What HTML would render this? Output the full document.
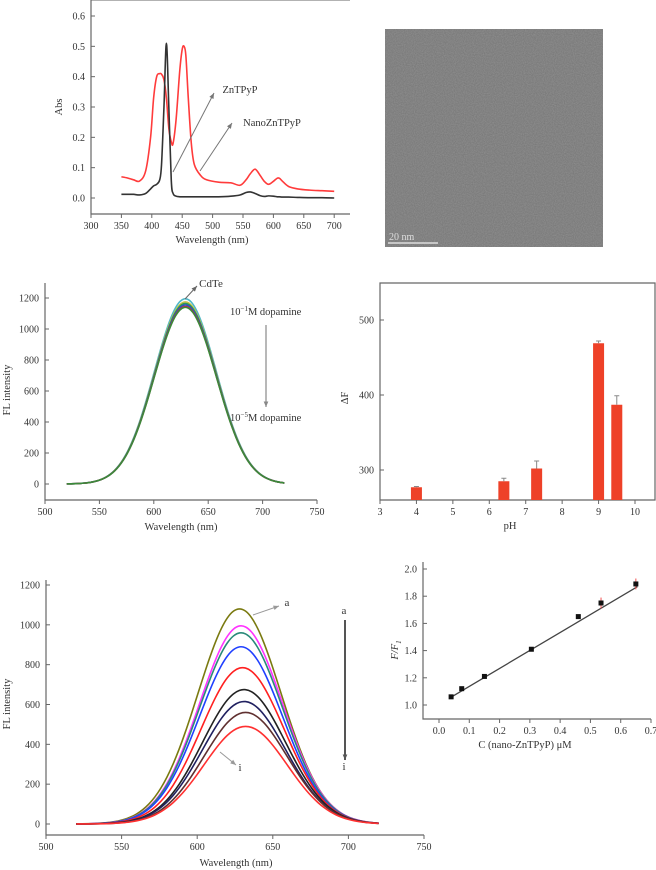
<!DOCTYPE html>
<html><head><meta charset="utf-8"><style>
html,body{margin:0;padding:0;background:#fff;width:656px;height:870px;overflow:hidden}
svg{display:block;font-family:"Liberation Serif",serif}
text{fill:#333}
</style></head><body>
<svg id="fig" width="656" height="870" viewBox="0 0 656 870">
<g id="pA"></g>
<g id="pT">
 <defs><filter id="noise" x="0" y="0" width="1" height="1"><feTurbulence type="fractalNoise" baseFrequency="0.9" numOctaves="2" seed="3"/><feColorMatrix type="matrix" values="0 0 0 0 0.42  0 0 0 0 0.42  0 0 0 0 0.42  0 0 0 -1.2 0.9"/></filter></defs>
 <rect x="385" y="29" width="218" height="218" fill="#7b7b7b"/>
 <rect x="385" y="29" width="218" height="218" filter="url(#noise)" opacity="0.5"/>
 <text x="389" y="240" font-size="10" style="fill:#ddd">20 nm</text>
 <line x1="388" y1="243" x2="438" y2="243" stroke="#ddd" stroke-width="1.5"/>
</g>
<g id="pB"></g>
<g id="pC"></g>
<g id="pD"></g>
<g id="pE"></g>
</svg>
<script>
// ---------- data ----------
const absWl = [350,360,370,380,390,398,403,408,413,416,420,424,428,432,435,440,446,450,453,456,460,465,470,480,490,510,530,545,555,562,570,578,585,592,600,606,610,615,625,640,660,680,700];
const absNano = [0.070,0.066,0.060,0.056,0.090,0.200,0.330,0.400,0.410,0.408,0.390,0.330,0.230,0.185,0.180,0.260,0.420,0.490,0.500,0.470,0.330,0.180,0.110,0.075,0.060,0.052,0.050,0.042,0.060,0.080,0.095,0.075,0.055,0.045,0.055,0.065,0.065,0.055,0.038,0.030,0.026,0.024,0.022];
const absZn = [0.012,0.012,0.012,0.010,0.015,0.030,0.040,0.045,0.060,0.110,0.300,0.510,0.300,0.060,0.015,0.006,0.004,0.004,0.004,0.004,0.004,0.004,0.004,0.004,0.004,0.004,0.006,0.010,0.018,0.020,0.015,0.008,0.005,0.007,0.006,0.004,0.004,0.003,0.003,0.002,0.001,0.001,0.000];
const absYTicks = [0.0,0.1,0.2,0.3,0.4,0.5,0.6];
const absXTicks = [300,350,400,450,500,550,600,650,700];

const dopPeaks = [1195,1175,1165,1155,1145,1140];
const dopColors = ['#4fb8c8','#c8c040','#2b9a55','#3050c0','#d02040','#3a8a3a'];
const dopYTicks = [0,200,400,600,800,1000,1200];
const dopXTicks = [500,550,600,650,700,750];

const phX = [4,6.4,7.3,9,9.5];
const phVals = [277,285,302,469,387];
const phErr = [1,4,10,3,12];
const phYTicks = [300,400,500];
const phXTicks = [3,4,5,6,7,8,9,10];

const qPeaks = [1080,995,960,890,785,675,615,560,490];
const qCenters = [628,629,629,629,630,631,631,632,632];
const qColors = ['#7a7a10','#ff33ff','#2a8a7a','#2040ff','#ff2020','#222222','#202060','#603030','#ff3030'];
const qYTicks = [0,200,400,600,800,1000,1200];
const qXTicks = [500,550,600,650,700,750];

const linX = [0.04,0.075,0.15,0.305,0.46,0.535,0.65];
const linY = [1.06,1.12,1.21,1.41,1.65,1.75,1.89];
const linErr = [0.01,0.01,0.01,0.01,0.01,0.04,0.04];
const linFit = [1.005,1.32];
const linYTicks = [1.0,1.2,1.4,1.6,1.8,2.0];
const linXTicks = [0.0,0.1,0.2,0.3,0.4,0.5,0.6,0.7];

// ---------- helpers ----------
const NS='http://www.w3.org/2000/svg';
function mk(parent,tag,attrs,txt){const e=document.createElementNS(NS,tag);for(const k in attrs)e.setAttribute(k,attrs[k]);if(txt!==undefined)e.textContent=txt;parent.appendChild(e);return e;}
function lin(d0,d1,r0,r1){return v=>r0+(v-d0)*(r1-r0)/(d1-d0);}
function axes(g,x0,x1,y0,y1,opts){
  const ax=mk(g,'path',{d:`M${x0} ${y0} L${x0} ${y1} L${x1} ${y1}`+(opts.box?` L${x1} ${y0} Z`:''),fill:'none',stroke:'#666','stroke-width':1.2});
  
  
  if(opts.top){const t=mk(g,'line',{x1:x0,y1:y0,x2:opts.top,y2:y0,stroke:'#666','stroke-width':1});}
}
function yTicks(g,ticks,sy,x0,fmt,fs){ticks.forEach(v=>{const y=sy(v);mk(g,'line',{x1:x0,y1:y,x2:x0+4,y2:y,stroke:'#666'});const t=mk(g,'text',{x:x0-6,y:y+3.5,'font-size':fs,'text-anchor':'end'},fmt(v));});}
function xTicks(g,ticks,sx,y1,fmt,fs,dy){ticks.forEach(v=>{const x=sx(v);mk(g,'line',{x1:x,y1:y1,x2:x,y2:y1+4,stroke:'#666'});const t=mk(g,'text',{x:x,y:y1+dy,'font-size':fs,'text-anchor':'middle'},fmt(v));});}
function label(g,x,y,txt,name,rot,fs){const t=mk(g,'text',{x:x,y:y,'font-size':fs||11,'text-anchor':'middle',transform:rot?`rotate(-90 ${x} ${y})`:''},txt);return t;}
function arrow(g,x1,y1,x2,y2,col,name,w){const l=mk(g,'line',{x1,y1,x2,y2,stroke:col,'stroke-width':w||1.2});
  const a=Math.atan2(y2-y1,x2-x1),s=6;mk(g,'path',{d:`M${x2} ${y2} L${x2-s*Math.cos(a-0.4)} ${y2-s*Math.sin(a-0.4)} L${x2-s*Math.cos(a+0.4)} ${y2-s*Math.sin(a+0.4)} Z`,fill:col});}
function smooth(pts){let d=`M${pts[0][0]} ${pts[0][1]}`;for(let i=0;i<pts.length-1;i++){const p0=pts[i-1]||pts[i],p1=pts[i],p2=pts[i+1],p3=pts[i+2]||p2;d+=` C${p1[0]+(p2[0]-p0[0])/6} ${p1[1]+(p2[1]-p0[1])/6} ${p2[0]-(p3[0]-p1[0])/6} ${p2[1]-(p3[1]-p1[1])/6} ${p2[0]} ${p2[1]}`;}return d;}
function gauss(peak,c,sigma,x){return peak*Math.exp(-((x-c)**2)/(2*sigma*sigma));}

// ---------- panel A ----------
(function(){const g=document.getElementById('pA');
 const sx=lin(300,350,91,121.4),sy=lin(0,0.6,198,16);
 axes(g,91,350,0,214,{top:350});
 yTicks(g,absYTicks,sy,91,v=>v.toFixed(1),10);
 xTicks(g,absXTicks,sx,214,v=>v,10,15);
 label(g,212,243,'Wavelength (nm)','x-axis-title',false,10.5);
 label(g,62,107,'Abs','y-axis-title',true,10.5);
 const r=mk(g,'path',{d:smooth(absWl.map((w,i)=>[sx(w),sy(absNano[i])])),fill:'none',stroke:'#ff3b3b','stroke-width':1.6});
 
 const b=mk(g,'path',{d:smooth(absWl.map((w,i)=>[sx(w),sy(absZn[i])])),fill:'none',stroke:'#333','stroke-width':1.6});
 
 arrow(g,173,172,214,93,'#777','zntpyp-arrow',1);
 arrow(g,200,171,232,123,'#777','nano-arrow',1);
 label(g,240,93,'ZnTPyP','zntpyp-label',false,10.5);
 label(g,272,126,'NanoZnTPyP','nano-label',false,10.5);
})();

// ---------- panel B ----------
(function(){const g=document.getElementById('pB');
 const sx=lin(500,750,45,317),sy=lin(0,1200,484,298);
 axes(g,45,317,283,500,{});
 yTicks(g,dopYTicks,sy,45,v=>v,10);
 xTicks(g,dopXTicks,sx,500,v=>v,10,15);
 label(g,181,530,'Wavelength (nm)','x-axis-title',false,10.5);
 label(g,10,390,'FL intensity','y-axis-title',true,10.5);
 dopPeaks.forEach((p,i)=>{const pts=[];for(let w=520;w<=720;w+=4)pts.push([sx(w),sy(gauss(p,629,28.5,w))]);
  const c=mk(g,'path',{d:smooth(pts),fill:'none',stroke:dopColors[i],'stroke-width':1.6});
  });
 arrow(g,185,299,197,286,'#666','cdte-arrow',1);
 label(g,211,287,'CdTe','cdte-label',false,11);
 const t1=mk(g,'text',{x:230,y:315,'font-size':10.5},'');t1.innerHTML='10<tspan dy="-4" font-size="7">−1</tspan><tspan dy="4">M dopamine</tspan>';
 
 arrow(g,266,325,266,407,'#888','concentration-arrow',1.2);
 const t2=mk(g,'text',{x:230,y:421,'font-size':10.5},'');t2.innerHTML='10<tspan dy="-4" font-size="7">−5</tspan><tspan dy="4">M dopamine</tspan>';
 
})();

// ---------- panel C ----------
(function(){const g=document.getElementById('pC');
 const sx=lin(3,10,380,635),sy=lin(300,500,470,320);
 axes(g,380,655,283,500,{box:true});
 yTicks(g,phYTicks,sy,380,v=>v,10);
 xTicks(g,phXTicks,sx,500,v=>v,10,15);
 label(g,510,529,'pH','x-axis-title',false,10.5);
 label(g,348,398,'ΔF','y-axis-title',true,10.5);
 phX.forEach((x,i)=>{const cx=sx(x),y=sy(phVals[i]);
  const r=mk(g,'rect',{x:cx-5.5,y:y,width:11,height:500-y,fill:'#ee4128'});
  
  const ye=sy(phVals[i]+phErr[i]);mk(g,'line',{x1:cx,y1:y,x2:cx,y2:ye,stroke:'#888'});mk(g,'line',{x1:cx-2.5,y1:ye,x2:cx+2.5,y2:ye,stroke:'#888'});});
})();

// ---------- panel D ----------
(function(){const g=document.getElementById('pD');
 const sx=lin(500,750,46,424),sy=lin(0,1200,824,585);
 axes(g,46,424,580,835,{});
 yTicks(g,qYTicks,sy,46,v=>v,10);
 xTicks(g,qXTicks,sx,835,v=>v,10,15);
 label(g,236,866,'Wavelength (nm)','x-axis-title',false,10.5);
 label(g,10,704,'FL intensity','y-axis-title',true,10.5);
 qPeaks.forEach((p,i)=>{const pts=[];for(let w=520;w<=720;w+=4)pts.push([sx(w),sy(gauss(p,qCenters[i],27.5,w))]);
  const c=mk(g,'path',{d:smooth(pts),fill:'none',stroke:qColors[i],'stroke-width':1.6});
  });
 arrow(g,253,615,279,606,'#999','a-arrow',1);
 label(g,287,606,'a','curve-a-label',false,11);
 arrow(g,220,752,236,765,'#999','i-arrow',1);
 label(g,240,771,'i','curve-i-label',false,11);
 label(g,344,614,'a','trend-start-label',false,11);
 arrow(g,345,620,345,760,'#555','trend-arrow',2);
 label(g,344,770,'i','trend-end-label',false,11);
})();

// ---------- panel E ----------
(function(){const g=document.getElementById('pE');
 const sx=lin(0,0.7,439,651),sy=lin(1.0,2.0,705,569);
 axes(g,423,651,562,719,{});
 yTicks(g,linYTicks,sy,423,v=>v.toFixed(1),10);
 xTicks(g,linXTicks,sx,719,v=>v.toFixed(1),10,15);
 label(g,525,748,'C (nano-ZnTPyP) μM','x-axis-title',false,10.5);
 const yl=mk(g,'text',{x:398,y:650,'font-size':10.5,'text-anchor':'middle','font-style':'italic',transform:'rotate(-90 398 650)'},'');
 yl.innerHTML='F/F<tspan dy="3" font-size="7">1</tspan>';
 
 const f=v=>linFit[0]+linFit[1]*v;
 const l=mk(g,'line',{x1:sx(0.035),y1:sy(f(0.035)),x2:sx(0.655),y2:sy(f(0.655)),stroke:'#444','stroke-width':1.3});
 
 linX.forEach((x,i)=>{const cx=sx(x),cy=sy(linY[i]);
  mk(g,'line',{x1:cx,y1:sy(linY[i]-linErr[i]),x2:cx,y2:sy(linY[i]+linErr[i]),stroke:'#f05050'});
  const p=mk(g,'rect',{x:cx-2.5,y:cy-2.5,width:5,height:5,fill:'#111'});
  });
})();
</script>
</body></html>
